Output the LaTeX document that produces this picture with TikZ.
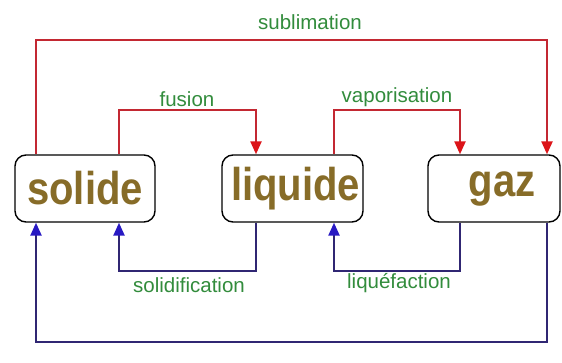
\documentclass[tikz,border=0pt]{standalone}
\usepackage{fontspec}
\setmainfont{Liberation Sans}
\usetikzlibrary{arrows.meta}
\definecolor{redline}{RGB}{195,40,50}
\definecolor{redtip}{RGB}{220,20,25}
\definecolor{blueline}{RGB}{48,38,115}
\definecolor{bluetip}{RGB}{40,25,195}
\definecolor{labgreen}{RGB}{50,140,60}
\definecolor{statetxt}{RGB}{135,108,40}
\tikzset{
  state/.style={draw=black, line width=1.4pt, rounded corners=11pt, fill=white,
    inner sep=0pt, minimum height=67pt, text=statetxt,
    font=\bfseries\fontsize{46}{46}\selectfont},
  redarrow/.style={draw=redline, line width=2.3pt,
    -{Triangle[length=13pt,width=11pt,color=redtip]}},
  bluearrow/.style={draw=blueline, line width=2.3pt,
    -{Triangle[length=13pt,width=11pt,color=bluetip]}},
  lab/.style={text=labgreen, font=\fontsize{20.5}{21}\selectfont, inner sep=0pt}
}
\begin{document}
\begin{tikzpicture}[x=1pt,y=1pt]
\fill[white] (0,0) rectangle (562,363);
\useasboundingbox (0,0) rectangle (562,363);
% states
\node[state, minimum width=140pt] (solide) at (85,174.5) {\scalebox{0.87}[1]{solide}};
\node[state, minimum width=141pt] (liquide) at (292.5,174.5) {\hspace{6pt}\scalebox{0.87}[1]{liquide}};
\node[state, minimum width=132pt] (gaz) at (494,174.5) {\hspace{16pt}\scalebox{0.87}[1]{gaz}};
% corner coordinates
\coordinate (t1) at (36,323);
\coordinate (t2) at (547,323);
\coordinate (f1) at (119,253);
\coordinate (f2) at (256,253);
\coordinate (v1) at (334,253);
\coordinate (v2) at (460,253);
\coordinate (s1) at (256,92);
\coordinate (s2) at (119,92);
\coordinate (q1) at (460,92);
\coordinate (q2) at (334,92);
\coordinate (c1) at (547,21);
\coordinate (c2) at (36,21);
% red transitions
\draw[redarrow] (solide.north -| t1) -- (t1) -- (t2) -- (gaz.north -| t2);
\draw[redarrow] (solide.north -| f1) -- (f1) -- (f2) -- (liquide.north -| f2);
\draw[redarrow] (liquide.north -| v1) -- (v1) -- (v2) -- (gaz.north -| v2);
% blue transitions
\draw[bluearrow] (liquide.south -| s1) -- (s1) -- (s2) -- (solide.south -| s2);
\draw[bluearrow] (gaz.south -| q1) -- (q1) -- (q2) -- (liquide.south -| q2);
\draw[bluearrow] (gaz.south -| c1) -- (c1) -- (c2) -- (solide.south -| c2);
% labels
\node[lab] (lsub) at (310,341) {sublimation};
\node[lab] (lfus) at (187,264) {fusion};
\node[lab] (lvap) at (397,266) {vaporisation};
\node[lab] (lsol) at (189,78) {solidification};
\node[lab] (lliq) at (399,80) {liquéfaction};
\end{tikzpicture}
\end{document}
